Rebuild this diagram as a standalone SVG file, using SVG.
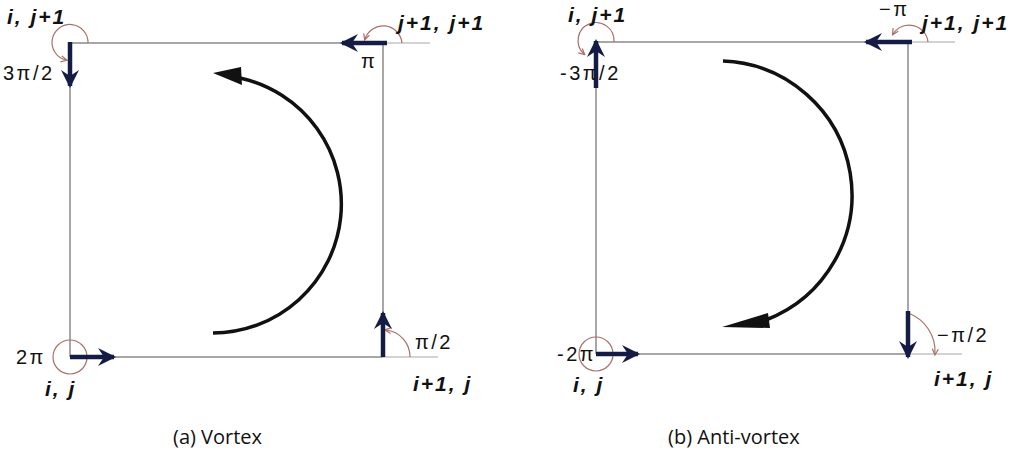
<svg xmlns="http://www.w3.org/2000/svg" width="1019" height="457" viewBox="0 0 1019 457">
<style>
.grid{stroke:#8a8a8a;stroke-width:1.5;fill:none}
.ext{stroke:#c4c4c4;stroke-width:1.5;fill:none}
.ang{stroke:#a87068;stroke-width:1.2;fill:none}
.vec{stroke:#141c45;stroke-width:4.5;fill:none;marker-end:url(#head)}
.big{stroke:#111;stroke-width:3.5;fill:none}
.idx{font-family:"Liberation Sans",Arial,sans-serif;font-weight:bold;font-style:italic;font-size:21px;letter-spacing:2px;fill:#111}
.pi{font-family:"Liberation Sans",Arial,sans-serif;font-size:20px;letter-spacing:2.5px;fill:#111}
.cap{font-family:"Open Sans","Liberation Sans",sans-serif;font-size:20px;font-weight:500;fill:#111}
</style>
<defs>
<marker id="head" markerUnits="userSpaceOnUse" markerWidth="22" markerHeight="22" viewBox="0 0 22 22" refX="18" refY="11" orient="auto">
<path d="M2,2 L20,11 L2,20 L8,11 Z" fill="#141c45"/>
</marker>
<marker id="small" markerUnits="userSpaceOnUse" markerWidth="8" markerHeight="8" viewBox="0 0 8 8" refX="6" refY="4" orient="auto">
<path d="M1,1 L7,4 L1,7" stroke="#a87068" stroke-width="1.2" fill="none"/>
</marker>
</defs>
<rect width="1019" height="457" fill="#fff"/>

<g id="connectors">
<line class="grid" x1="70" y1="43" x2="383" y2="43"/>
<line class="ext" x1="383" y1="43" x2="430" y2="43"/>
<line class="grid" x1="70" y1="43" x2="70" y2="357"/>
<line class="grid" x1="383" y1="43" x2="383" y2="357"/>
<line class="grid" x1="70" y1="357" x2="383" y2="357"/>
<line class="ext" x1="383" y1="357" x2="438" y2="357"/>
<line class="grid" x1="596" y1="42" x2="908" y2="42"/>
<line class="ext" x1="908" y1="42" x2="955" y2="42"/>
<line class="grid" x1="596" y1="42" x2="596" y2="354"/>
<line class="grid" x1="908" y1="42" x2="908" y2="354"/>
<line class="grid" x1="596" y1="354" x2="908" y2="354"/>
<line class="ext" x1="908" y1="354" x2="962" y2="354"/>
<path class="big" d="M213,333 A129,129 0 0 0 240,78"/>
<polygon points="213,73 241,67 242,85" fill="#111"/>
<path class="big" d="M723,61 A134,134 0 0 1 766,320" stroke-width="4"/>
<polygon points="722,327 768,313 770,328" fill="#111"/>
</g>

<g id="node-a-top-left">
<path class="ang" d="M88,43 A18,18 0 1 0 66,60" marker-end="url(#small)"/>
<line class="vec" x1="70" y1="42" x2="70" y2="86"/>
<text class="idx" x="7" y="24">i, j+1</text>
<text class="pi" x="3" y="80">3π/2</text>
</g>
<g id="node-a-top-right">
<path class="ang" d="M402,43 A19,19 0 0 0 365,39" marker-end="url(#small)"/>
<line class="vec" x1="387" y1="43" x2="342" y2="43"/>
<text class="idx" x="398" y="30">j+1, j+1</text>
<text class="pi" x="361" y="68">π</text>
</g>
<g id="node-a-bottom-left">
<circle class="ang" cx="70" cy="357" r="17"/>
<line class="vec" x1="70" y1="357" x2="114" y2="357"/>
<text class="pi" x="16" y="364">2π</text>
<text class="idx" x="45" y="396">i, j</text>
</g>
<g id="node-a-bottom-right">
<path class="ang" d="M410,357 A27,27 0 0 0 386,330" marker-end="url(#small)"/>
<line class="vec" x1="383" y1="357" x2="383" y2="313"/>
<text class="pi" x="415" y="349">π/2</text>
<text class="idx" x="413" y="391">i+1, j</text>
</g>

<g id="node-b-top-left">
<path class="ang" d="M614,42 A18,18 0 1 0 584,54" marker-end="url(#small)"/>
<line class="vec" x1="596" y1="88" x2="596" y2="41"/>
<text class="idx" x="568" y="22">i, j+1</text>
<text class="pi" x="560" y="80">-3π/2</text>
</g>
<g id="node-b-top-right">
<path class="ang" d="M928,42 A19,19 0 0 0 893,34" marker-end="url(#small)"/>
<line class="vec" x1="912" y1="42" x2="866" y2="42"/>
<text class="pi" x="879" y="16">−π</text>
<text class="idx" x="922" y="30">j+1, j+1</text>
</g>
<g id="node-b-bottom-left">
<circle class="ang" cx="596" cy="354" r="17"/>
<line class="vec" x1="596" y1="354" x2="638" y2="354"/>
<text class="pi" x="557" y="361">-2π</text>
<text class="idx" x="573" y="392">i, j</text>
</g>
<g id="node-b-bottom-right">
<path class="ang" d="M908,313 A41,41 0 0 1 935,354" marker-end="url(#small)"/>
<line class="vec" x1="908" y1="311" x2="908" y2="357"/>
<text class="pi" x="937" y="342">−π/2</text>
<text class="idx" x="934" y="386">i+1, j</text>
</g>

<g id="captions">
<text class="cap" x="173" y="444">(a) Vortex</text>
<text class="cap" x="668" y="444">(b) Anti-vortex</text>
</g>
</svg>
